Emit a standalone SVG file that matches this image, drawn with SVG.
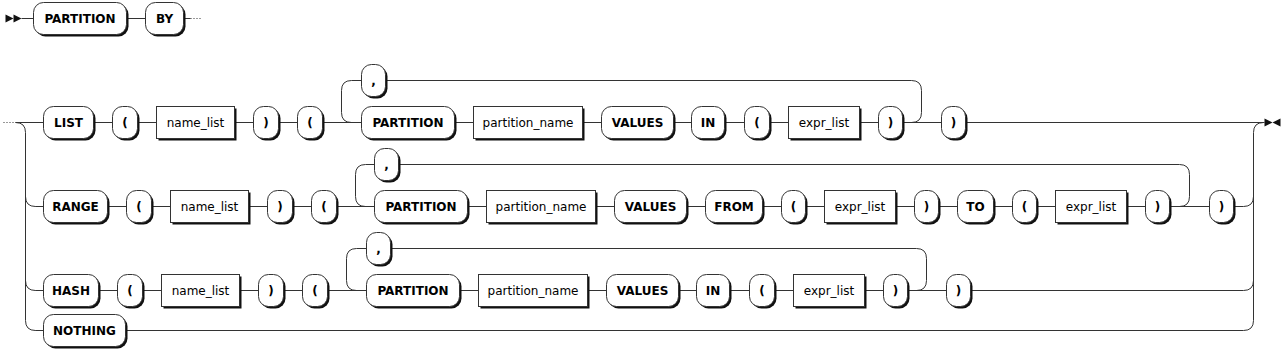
<svg xmlns="http://www.w3.org/2000/svg" width="1284" height="357" viewBox="0 0 1284 357">
<style>
.ln{fill:none;stroke:#333;stroke-width:1}
.dt{fill:none;stroke:#333;stroke-width:1;stroke-dasharray:1 2}
.ar{fill:#111;stroke:none}
.sh{fill:#111;stroke:none}
.tb{fill:#fff;stroke:#333;stroke-width:1}
.nb{fill:#fff;stroke:#333;stroke-width:1}
.tt{font-family:"DejaVu Sans",Verdana,sans-serif;font-size:12px;font-weight:bold;fill:#000;text-anchor:middle}
.nt{font-family:"DejaVu Sans",Verdana,sans-serif;font-size:12px;font-weight:normal;fill:#000;text-anchor:middle}
</style>
<rect x="0" y="0" width="1284" height="357" fill="#fff"/>
<g transform="translate(0.5 0.5)">
<g id="connectors">
<polygon class="ar" points="13,18 5,14 5,22"/>
<polygon class="ar" points="21,18 13,14 13,22"/>
<path class="ln" d="M21,18 H190"/>
<path class="dt" d="M190,18 H202"/>
<path class="dt" d="M3,122 H15"/>
<path class="ln" d="M15,122 H1264"/>
<path class="ln" d="M15,122 q10,0 10,10 V320 q0,10 10,10 H43"/>
<path class="ln" d="M25,196 q0,10 10,10 H43"/>
<path class="ln" d="M25,280 q0,10 10,10 H43"/>
<path class="ln" d="M351,122 q-10,0 -10,-10 V90 q0,-10 10,-10 H361"/>
<path class="ln" d="M385,80 H911 q10,0 10,10 V112 q0,10 -10,10 H902"/>
<path class="ln" d="M35,206 H1243 q10,0 10,-10"/>
<path class="ln" d="M365,206 q-10,0 -10,-10 V174 q0,-10 10,-10 H374"/>
<path class="ln" d="M398,164 H1179 q10,0 10,10 V196 q0,10 -10,10 H1169"/>
<path class="ln" d="M35,290 H1243 q10,0 10,-10"/>
<path class="ln" d="M356,290 q-10,0 -10,-10 V258 q0,-10 10,-10 H366"/>
<path class="ln" d="M390,248 H916 q10,0 10,10 V280 q0,10 -10,10 H907"/>
<path class="ln" d="M35,330 H1243 q10,0 10,-10 V132 q0,-10 10,-10"/>
<polygon class="ar" points="1272,122 1264,118 1264,126"/>
<polygon class="ar" points="1272,122 1280,118 1280,126"/>
</g>
<g id="n1-partition"><rect class="sh" x="35" y="4" width="93" height="32" rx="10"/><rect class="tb" x="33" y="2" width="93" height="32" rx="10"/><text class="tt" x="79.5" y="22">PARTITION</text></g>
<g id="n1-by"><rect class="sh" x="147" y="4" width="38" height="32" rx="10"/><rect class="tb" x="145" y="2" width="38" height="32" rx="10"/><text class="tt" x="164" y="22">BY</text></g>

<g id="r2-list"><rect class="sh" x="45" y="108" width="50" height="32" rx="10"/><rect class="tb" x="43" y="106" width="50" height="32" rx="10"/><text class="tt" x="68" y="126">LIST</text></g>
<g id="r2-lp1"><rect class="sh" x="114" y="108" width="25" height="32" rx="10"/><rect class="tb" x="112" y="106" width="25" height="32" rx="10"/><text class="tt" x="124.5" y="126">(</text></g>
<g id="r2-namelist"><rect class="sh" x="158" y="108" width="78" height="32"/><rect class="nb" x="156" y="106" width="78" height="32"/><text class="nt" x="195" y="126">name_list</text></g>
<g id="r2-rp1"><rect class="sh" x="255" y="108" width="25" height="32" rx="10"/><rect class="tb" x="253" y="106" width="25" height="32" rx="10"/><text class="tt" x="265.5" y="126">)</text></g>
<g id="r2-lp2"><rect class="sh" x="299" y="108" width="25" height="32" rx="10"/><rect class="tb" x="297" y="106" width="25" height="32" rx="10"/><text class="tt" x="309.5" y="126">(</text></g>
<g id="r2-comma"><rect class="sh" x="363" y="66" width="24" height="32" rx="10"/><rect class="tb" x="361" y="64" width="24" height="32" rx="10"/><text class="tt" x="373" y="84">,</text></g>
<g id="r2-partition"><rect class="sh" x="363" y="108" width="93" height="32" rx="10"/><rect class="tb" x="361" y="106" width="93" height="32" rx="10"/><text class="tt" x="407.5" y="126">PARTITION</text></g>
<g id="r2-pname"><rect class="sh" x="475" y="108" width="109" height="32"/><rect class="nb" x="473" y="106" width="109" height="32"/><text class="nt" x="527.5" y="126">partition_name</text></g>
<g id="r2-values"><rect class="sh" x="603" y="108" width="72" height="32" rx="10"/><rect class="tb" x="601" y="106" width="72" height="32" rx="10"/><text class="tt" x="637" y="126">VALUES</text></g>
<g id="r2-in"><rect class="sh" x="693" y="108" width="33" height="32" rx="10"/><rect class="tb" x="691" y="106" width="33" height="32" rx="10"/><text class="tt" x="707.5" y="126">IN</text></g>
<g id="r2-lp3"><rect class="sh" x="746" y="108" width="25" height="32" rx="10"/><rect class="tb" x="744" y="106" width="25" height="32" rx="10"/><text class="tt" x="756.5" y="126">(</text></g>
<g id="r2-exprlist"><rect class="sh" x="790" y="108" width="71" height="32"/><rect class="nb" x="788" y="106" width="71" height="32"/><text class="nt" x="823.5" y="126">expr_list</text></g>
<g id="r2-rp2"><rect class="sh" x="880" y="108" width="24" height="32" rx="10"/><rect class="tb" x="878" y="106" width="24" height="32" rx="10"/><text class="tt" x="890" y="126">)</text></g>
<g id="r2-rp3"><rect class="sh" x="943" y="108" width="24" height="32" rx="10"/><rect class="tb" x="941" y="106" width="24" height="32" rx="10"/><text class="tt" x="953" y="126">)</text></g>

<g id="r3-range"><rect class="sh" x="45" y="192" width="64" height="32" rx="10"/><rect class="tb" x="43" y="190" width="64" height="32" rx="10"/><text class="tt" x="75" y="210">RANGE</text></g>
<g id="r3-lp1"><rect class="sh" x="128" y="192" width="25" height="32" rx="10"/><rect class="tb" x="126" y="190" width="25" height="32" rx="10"/><text class="tt" x="138.5" y="210">(</text></g>
<g id="r3-namelist"><rect class="sh" x="172" y="192" width="78" height="32"/><rect class="nb" x="170" y="190" width="78" height="32"/><text class="nt" x="209" y="210">name_list</text></g>
<g id="r3-rp1"><rect class="sh" x="269" y="192" width="25" height="32" rx="10"/><rect class="tb" x="267" y="190" width="25" height="32" rx="10"/><text class="tt" x="279.5" y="210">)</text></g>
<g id="r3-lp2"><rect class="sh" x="313" y="192" width="25" height="32" rx="10"/><rect class="tb" x="311" y="190" width="25" height="32" rx="10"/><text class="tt" x="323.5" y="210">(</text></g>
<g id="r3-comma"><rect class="sh" x="376" y="150" width="24" height="32" rx="10"/><rect class="tb" x="374" y="148" width="24" height="32" rx="10"/><text class="tt" x="386" y="168">,</text></g>
<g id="r3-partition"><rect class="sh" x="376" y="192" width="93" height="32" rx="10"/><rect class="tb" x="374" y="190" width="93" height="32" rx="10"/><text class="tt" x="420.5" y="210">PARTITION</text></g>
<g id="r3-pname"><rect class="sh" x="488" y="192" width="109" height="32"/><rect class="nb" x="486" y="190" width="109" height="32"/><text class="nt" x="540.5" y="210">partition_name</text></g>
<g id="r3-values"><rect class="sh" x="616" y="192" width="72" height="32" rx="10"/><rect class="tb" x="614" y="190" width="72" height="32" rx="10"/><text class="tt" x="650" y="210">VALUES</text></g>
<g id="r3-from"><rect class="sh" x="707" y="192" width="57" height="32" rx="10"/><rect class="tb" x="705" y="190" width="57" height="32" rx="10"/><text class="tt" x="733.5" y="210">FROM</text></g>
<g id="r3-lp3"><rect class="sh" x="783" y="192" width="24" height="32" rx="10"/><rect class="tb" x="781" y="190" width="24" height="32" rx="10"/><text class="tt" x="793" y="210">(</text></g>
<g id="r3-exprlist1"><rect class="sh" x="826" y="192" width="71" height="32"/><rect class="nb" x="824" y="190" width="71" height="32"/><text class="nt" x="859.5" y="210">expr_list</text></g>
<g id="r3-rp2"><rect class="sh" x="916" y="192" width="24" height="32" rx="10"/><rect class="tb" x="914" y="190" width="24" height="32" rx="10"/><text class="tt" x="926" y="210">)</text></g>
<g id="r3-to"><rect class="sh" x="959" y="192" width="36" height="32" rx="10"/><rect class="tb" x="957" y="190" width="36" height="32" rx="10"/><text class="tt" x="975" y="210">TO</text></g>
<g id="r3-lp4"><rect class="sh" x="1014" y="192" width="24" height="32" rx="10"/><rect class="tb" x="1012" y="190" width="24" height="32" rx="10"/><text class="tt" x="1024" y="210">(</text></g>
<g id="r3-exprlist2"><rect class="sh" x="1057" y="192" width="71" height="32"/><rect class="nb" x="1055" y="190" width="71" height="32"/><text class="nt" x="1090.5" y="210">expr_list</text></g>
<g id="r3-rp3"><rect class="sh" x="1147" y="192" width="24" height="32" rx="10"/><rect class="tb" x="1145" y="190" width="24" height="32" rx="10"/><text class="tt" x="1157" y="210">)</text></g>
<g id="r3-rp4"><rect class="sh" x="1211" y="192" width="24" height="32" rx="10"/><rect class="tb" x="1209" y="190" width="24" height="32" rx="10"/><text class="tt" x="1221" y="210">)</text></g>

<g id="r4-hash"><rect class="sh" x="45" y="276" width="55" height="32" rx="10"/><rect class="tb" x="43" y="274" width="55" height="32" rx="10"/><text class="tt" x="70.5" y="294">HASH</text></g>
<g id="r4-lp1"><rect class="sh" x="119" y="276" width="25" height="32" rx="10"/><rect class="tb" x="117" y="274" width="25" height="32" rx="10"/><text class="tt" x="129.5" y="294">(</text></g>
<g id="r4-namelist"><rect class="sh" x="163" y="276" width="78" height="32"/><rect class="nb" x="161" y="274" width="78" height="32"/><text class="nt" x="200" y="294">name_list</text></g>
<g id="r4-rp1"><rect class="sh" x="260" y="276" width="25" height="32" rx="10"/><rect class="tb" x="258" y="274" width="25" height="32" rx="10"/><text class="tt" x="270.5" y="294">)</text></g>
<g id="r4-lp2"><rect class="sh" x="304" y="276" width="25" height="32" rx="10"/><rect class="tb" x="302" y="274" width="25" height="32" rx="10"/><text class="tt" x="314.5" y="294">(</text></g>
<g id="r4-comma"><rect class="sh" x="368" y="234" width="24" height="32" rx="10"/><rect class="tb" x="366" y="232" width="24" height="32" rx="10"/><text class="tt" x="378" y="252">,</text></g>
<g id="r4-partition"><rect class="sh" x="368" y="276" width="93" height="32" rx="10"/><rect class="tb" x="366" y="274" width="93" height="32" rx="10"/><text class="tt" x="412.5" y="294">PARTITION</text></g>
<g id="r4-pname"><rect class="sh" x="480" y="276" width="109" height="32"/><rect class="nb" x="478" y="274" width="109" height="32"/><text class="nt" x="532.5" y="294">partition_name</text></g>
<g id="r4-values"><rect class="sh" x="608" y="276" width="72" height="32" rx="10"/><rect class="tb" x="606" y="274" width="72" height="32" rx="10"/><text class="tt" x="642" y="294">VALUES</text></g>
<g id="r4-in"><rect class="sh" x="698" y="276" width="33" height="32" rx="10"/><rect class="tb" x="696" y="274" width="33" height="32" rx="10"/><text class="tt" x="712.5" y="294">IN</text></g>
<g id="r4-lp3"><rect class="sh" x="751" y="276" width="25" height="32" rx="10"/><rect class="tb" x="749" y="274" width="25" height="32" rx="10"/><text class="tt" x="761.5" y="294">(</text></g>
<g id="r4-exprlist"><rect class="sh" x="795" y="276" width="71" height="32"/><rect class="nb" x="793" y="274" width="71" height="32"/><text class="nt" x="828.5" y="294">expr_list</text></g>
<g id="r4-rp2"><rect class="sh" x="885" y="276" width="24" height="32" rx="10"/><rect class="tb" x="883" y="274" width="24" height="32" rx="10"/><text class="tt" x="895" y="294">)</text></g>
<g id="r4-rp3"><rect class="sh" x="948" y="276" width="24" height="32" rx="10"/><rect class="tb" x="946" y="274" width="24" height="32" rx="10"/><text class="tt" x="958" y="294">)</text></g>

<g id="r5-nothing"><rect class="sh" x="45" y="316" width="82" height="32" rx="10"/><rect class="tb" x="43" y="314" width="82" height="32" rx="10"/><text class="tt" x="84" y="334">NOTHING</text></g>
</g>
</svg>
